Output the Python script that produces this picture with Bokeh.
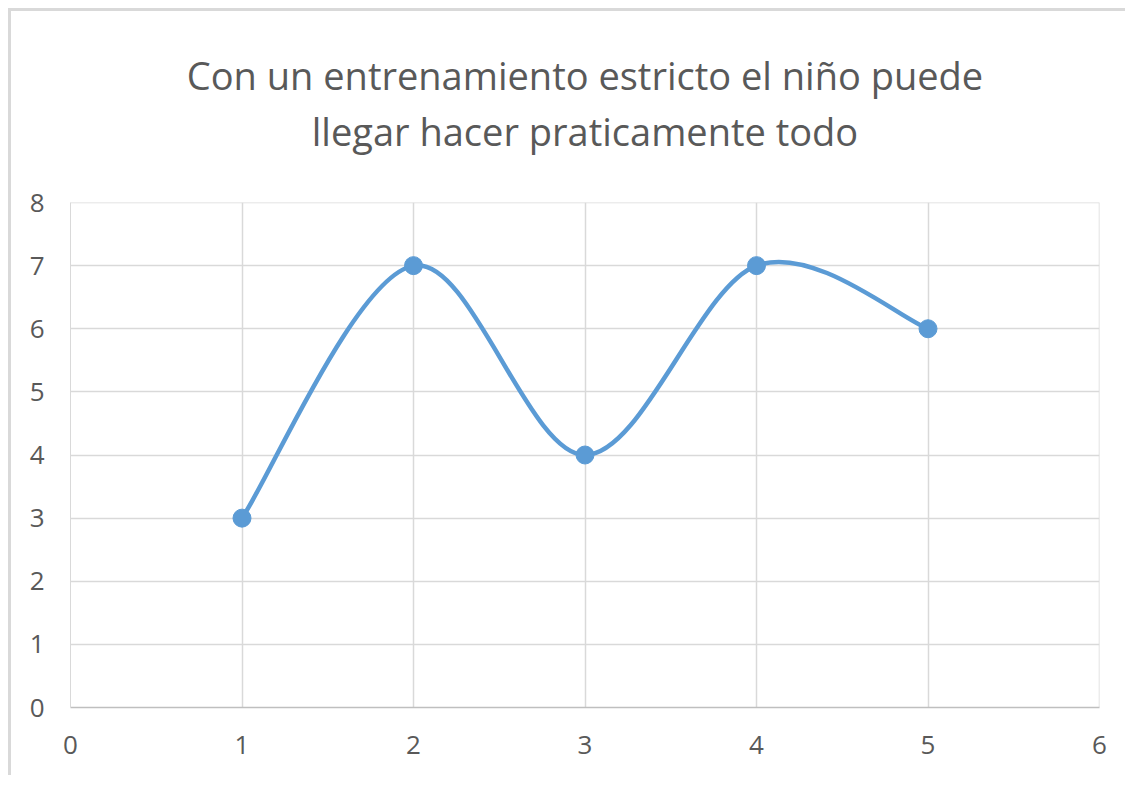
from bokeh.plotting import figure
from bokeh.models import Range1d, FixedTicker, Title, LinearAxis
from bokeh.embed import file_html
from bokeh.resources import INLINE

# data
x_vals = [1, 2, 3, 4, 5]
y_vals = [3, 7, 4, 7, 6]
x_ticks = [0, 1, 2, 3, 4, 5, 6]
y_ticks = [0, 1, 2, 3, 4, 5, 6, 7, 8]
title_lines = ["Con un entrenamiento estricto el niño puede",
               "llegar hacer praticamente todo"]

LINE = "#5b9bd5"
GRID = "#d9d9d9"
TXT = "#595959"
FONT = "Open Sans"

p = figure(width=1117, height=767, output_backend="svg", toolbar_location=None,
           x_range=Range1d(0, 6), y_range=Range1d(0, 8),
           min_border_left=59, min_border_right=29, min_border_top=191, min_border_bottom=71)
p.title = None
p.outline_line_color = None
p.styles = {"border-top": "3px solid #d9d9d9", "border-left": "3px solid #d9d9d9",
            "margin-top": "8px", "margin-left": "8px", "box-sizing": "border-box"}

xax = p.below[0]
yax = p.left[0]

# second title line: label of an empty axis above the plot
top_axis = LinearAxis(ticker=FixedTicker(ticks=[]), axis_label=title_lines[1],
                      axis_line_color=None, major_tick_line_color=None,
                      minor_tick_line_color=None, axis_label_standoff=46,
                      major_label_text_font_size="0px", major_label_standoff=0,
                      major_tick_out=0, major_tick_in=0, minor_tick_out=0, minor_tick_in=0,
                      axis_label_text_font=FONT, axis_label_text_font_size="38px",
                      axis_label_text_font_style="normal", axis_label_text_color=TXT)
p.add_layout(top_axis, "above")
# first title line
t1 = Title(text=title_lines[0], align="center", text_font=FONT,
           text_font_size="38px", text_font_style="normal", text_color=TXT,
           offset=-10, standoff=2)
p.add_layout(t1, "above")

for ax in (xax, yax):
    ax.major_label_text_font = FONT
    ax.major_label_text_font_size = "26px"
    ax.major_label_text_color = TXT
    ax.major_tick_line_color = None
    ax.minor_tick_line_color = None
xax.ticker = FixedTicker(ticks=x_ticks)
yax.ticker = FixedTicker(ticks=y_ticks)
xax.axis_line_color = "#bfbfbf"
xax.axis_line_width = 1.5
yax.axis_line_color = GRID
xax.major_label_standoff = 22
yax.major_label_standoff = 20
p.xgrid.grid_line_color = GRID
p.ygrid.grid_line_color = GRID
p.xgrid.grid_line_width = 1.5
p.ygrid.grid_line_width = 1.5

# right and top border of plot area
p.line(x=[6, 6], y=[0, 8], line_color=GRID, line_width=1.5)
p.line(x=[0, 6], y=[8, 8], line_color=GRID, line_width=1.5)

# Excel-style smoothed line (Bezier segments derived from the data)
n = len(x_vals)
x0, y0, x1, y1, cx0, cy0, cx1, cy1 = [], [], [], [], [], [], [], []
for i in range(n - 1):
    ip = max(i - 1, 0)
    inn = min(i + 2, n - 1)
    x0.append(x_vals[i]); y0.append(y_vals[i])
    x1.append(x_vals[i + 1]); y1.append(y_vals[i + 1])
    cx0.append(x_vals[i] + (x_vals[i + 1] - x_vals[ip]) / 6)
    cy0.append(y_vals[i] + (y_vals[i + 1] - y_vals[ip]) / 6)
    cx1.append(x_vals[i + 1] - (x_vals[inn] - x_vals[i]) / 6)
    cy1.append(y_vals[i + 1] - (y_vals[inn] - y_vals[i]) / 6)
p.bezier(x0=x0, y0=y0, x1=x1, y1=y1, cx0=cx0, cy0=cy0, cx1=cx1, cy1=cy1,
         line_color=LINE, line_width=4.5)
p.scatter(x_vals, y_vals, size=18, fill_color=LINE, line_color=LINE)

open("out.html", "w").write(file_html(p, INLINE))
